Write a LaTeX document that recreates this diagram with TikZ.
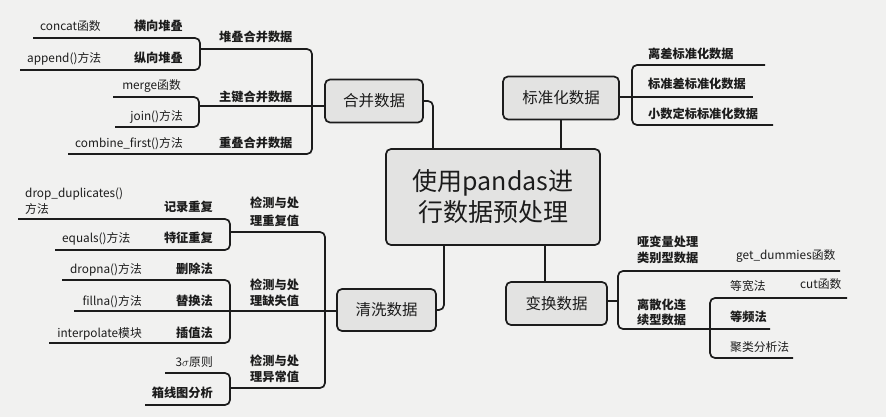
\documentclass[tikz,border=0pt]{standalone}
\usepackage{fontspec}
\setmainfont{Noto Sans CJK SC}
\definecolor{bg}{HTML}{F1F1F0}
\definecolor{boxfill}{HTML}{E3E3E2}
\definecolor{ink}{HTML}{1C1C1C}
\tikzset{
  x=1pt, y=-1pt,
  conn/.style={draw=ink, line width=1.7pt, rounded corners=5pt},
  topicbox/.style={draw=ink, fill=boxfill, line width=1.7pt, rounded corners=5pt, font=\fontsize{15.5}{18}\selectfont, text=ink, inner sep=0pt},
  lbl/.style={inner sep=0pt, anchor=base west, font=\fontsize{11.8}{13}\selectfont, text=ink},
  lblr/.style={lbl, anchor=base east},
  blbl/.style={lbl, font=\fontsize{12.2}{13}\selectfont\bfseries},
  blblr/.style={blbl, anchor=base east},
}
\begin{document}
\begin{tikzpicture}
\path[fill=bg] (0,0) rectangle (886,417);
\useasboundingbox (0,0) rectangle (886,417);

% main topics
\node[topicbox, minimum width=214pt, minimum height=96pt, align=center, font=\fontsize{25}{31}\selectfont] (zx) at (493,197) {使用pandas进\\行数据预处理};
\node[topicbox, minimum width=98pt, minimum height=43pt] (hb) at (374,101) {合并数据};
\node[topicbox, minimum width=116pt, minimum height=43pt] (bz) at (561,98) {标准化数据};
\node[topicbox, minimum width=99pt, minimum height=42pt] (qx) at (386.5,310) {清洗数据};
\node[topicbox, minimum width=101pt, minimum height=43pt] (bh) at (556.5,303.5) {变换数据};

% coordinates
\coordinate (hbc) at (433,149);
\coordinate (qxc) at (444,245);
\coordinate (bhc) at (545,245);
\coordinate (bht) at (545,282);

% connectors to the centre
\draw[conn] (hb.east) -| (hbc);
\draw[conn] (bz.south) -- (bz.south |- zx.north);
\draw[conn] (qx.east) -| (qxc);
\draw[conn] (bht) -- (bhc);

% ---------- 标准化数据 ----------
\coordinate (b1) at (765,65);
\coordinate (b2) at (753,97);
\coordinate (b3) at (773,125);
\coordinate (bv) at (632,97);
\draw[conn] (b1) -- (632,65) -- (632,125) -- (b3);
\draw[conn] (bz.east |- bv) -- (b2);
\node[blbl] (t1) at (648,59) {离差标准化数据};
\node[blbl] (t2) at (648,89) {标准差标准化数据};
\node[blbl] (t3) at (648,119) {小数定标标准化数据};

% ---------- 合并数据 ----------
\coordinate (m1) at (200,49);
\coordinate (m3) at (68,154);
\coordinate (mz) at (199,106);
\draw[conn] (m1) -- (312,49) -- (312,154) -- (m3);
\draw[conn] (mz) -- (hb.west |- mz);
% 堆叠
\coordinate (s1) at (33,38);
\coordinate (s2) at (20,70);
\draw[conn] (s1) -- (200,38) -- (200,70) -- (s2);
% 主键
\coordinate (k1) at (113,97);
\coordinate (k2) at (115,127);
\draw[conn] (k1) -- (199,97) -- (199,127) -- (k2);

\node[lbl] (concat) at (40,31) {concat函数};
\node[blblr] (hx) at (183,31) {横向堆叠};
\node[lbl] (append) at (27,63) {append()方法};
\node[blblr] (zxd) at (183,63) {纵向堆叠};
\node[blbl] (ddhb) at (219,42) {堆叠合并数据};
\node[lblr] (merge) at (181,90) {merge函数};
\node[lblr] (join) at (183,121) {join()方法};
\node[blbl] (zjhb) at (219,102) {主键合并数据};
\node[lblr] (combine) at (183,148) {combine\_first()方法};
\node[blbl] (cdhb) at (219,148) {重叠合并数据};

% ---------- 清洗数据 ----------
\coordinate (q1) at (230,232);
\coordinate (q3) at (230,388);
\coordinate (qm) at (74,311);
\draw[conn] (q1) -- (325,232) -- (325,388) -- (q3);
\draw[conn] (qm) -- (qx.west |- qm);
% 重复值
\coordinate (r1) at (18,219);
\coordinate (r2) at (55,250);
\draw[conn] (r1) -- (230,219) -- (230,250) -- (r2);
% 缺失值
\coordinate (f1) at (62,280);
\coordinate (f3) at (49,343);
\draw[conn] (f1) -- (230,280) -- (230,343) -- (f3);
% 异常值
\coordinate (y1) at (165,373);
\coordinate (y2) at (145,405);
\draw[conn] (y1) -- (230,373) -- (230,405) -- (y2);

\node[lbl] (dd1) at (25,197) {drop\_duplicates()};
\node[lbl] (dd2) at (25,213) {方法};
\node[blblr] (jl) at (213,211) {记录重复};
\node[lbl] (eq) at (62,242) {equals()方法};
\node[blblr] (tz) at (213,242) {特征重复};
\node[blbl] (cf1) at (250,207) {检测与处};
\node[blbl] (cf2) at (250,225) {理重复值};

\node[lblr] (dropna) at (142,273) {dropna()方法};
\node[blblr] (sc) at (213,273) {删除法};
\node[lblr] (fillna) at (142,305) {fillna()方法};
\node[blblr] (th) at (213,305) {替换法};
\node[lblr] (interp) at (142,337) {interpolate模块};
\node[blblr] (cz) at (213,337) {插值法};
\node[blbl] (qs1) at (250,289) {检测与处};
\node[blbl] (qs2) at (250,305) {理缺失值};

\node[lblr] (sigma) at (213,366) {3$\sigma$原则};
\node[blblr] (xx) at (213,397) {箱线图分析};
\node[blbl] (yc1) at (250,365) {检测与处};
\node[blbl] (yc2) at (250,381) {理异常值};

% ---------- 变换数据 ----------
\coordinate (h1) at (840,271);
\coordinate (h2) at (770,329);
\coordinate (hv) at (618,301);
\draw[conn] (h1) -- (618,271) -- (618,329) -- (h2);
\draw[conn] (bh.east |- hv) -- (hv);
\coordinate (w1) at (847,298);
\coordinate (w3) at (793,358);
\draw[conn] (w1) -- (710,298) -- (710,358) -- (w3);

\node[blbl] (yb1) at (637,246) {哑变量处理};
\node[blbl] (yb2) at (637,262) {类别型数据};
\node[lbl] (dummies) at (736,259) {get\_dummies函数};
\node[blbl] (ls1) at (637,309) {离散化连};
\node[blbl] (ls2) at (637,324) {续型数据};
\node[lbl] (dk) at (730,290) {等宽法};
\node[lbl] (cut) at (800,288) {cut函数};
\node[blbl] (dp) at (730,321) {等频法};
\node[lbl] (jlfx) at (730,351) {聚类分析法};
\end{tikzpicture}
\end{document}
